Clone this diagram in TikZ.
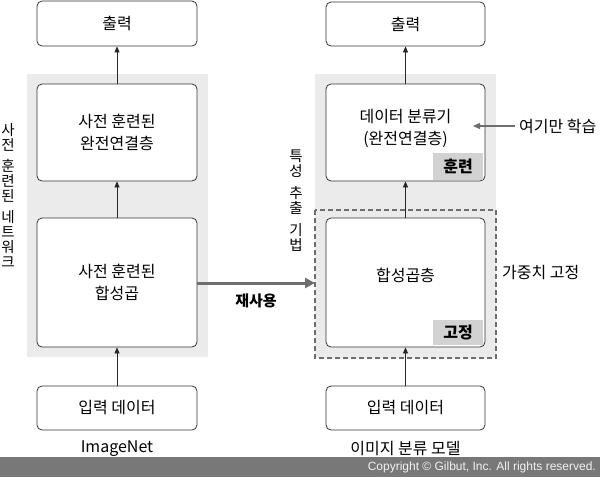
\documentclass[tikz,border=0pt]{standalone}
\usepackage{fontspec}
\setmainfont{Noto Sans CJK KR}
\newfontfamily\copyfont{Liberation Sans}
\usetikzlibrary{arrows.meta}
\definecolor{panelgray}{HTML}{EBEBEB}
\definecolor{taggray}{HTML}{D2D2D2}
\definecolor{arrgray}{HTML}{6E6E6E}
\definecolor{bargray}{HTML}{787878}
\tikzset{
  box/.style={draw=black!80, line width=0.8pt, rounded corners=5pt, fill=white},
  lbl/.style={font=\fontsize{16}{22}\selectfont, align=center, inner sep=0pt},
  tagbox/.style={fill=taggray, font=\fontsize{16}{18}\selectfont\bfseries, inner sep=0pt},
  flow/.style={-{Triangle[length=6pt,width=5pt]}, line width=0.7pt, black!85},
  vtext/.style={font=\fontsize{14.5}{15}\selectfont, align=center, inner sep=0pt},
}
\begin{document}
\begin{tikzpicture}[x=1pt,y=-1pt]
\useasboundingbox (0,0) rectangle (600,477);
% panels
\fill[panelgray] (27,74) rectangle (208,357);
\fill[panelgray] (315,74) rectangle (496,358);
\coordinate (dashW) at (315,283);
\draw[arrgray, line width=2pt, dash pattern=on 5pt off 3pt] (315,210) rectangle (496,358);
% left column
\node[box, minimum width=160pt, minimum height=45pt] (lout) at (117,23.5) {};
\node[lbl] (loutT) at (lout.center) {출력};
\node[box, minimum width=160pt, minimum height=97pt] (lfc) at (117,132.5) {};
\node[lbl] (lfcT) at (117,132) {사전 훈련된\\완전연결층};
\node[box, minimum width=160pt, minimum height=129pt] (lconv) at (117,282.5) {};
\node[lbl] (lconvT) at (117,282) {사전 훈련된\\합성곱};
\node[box, minimum width=160pt, minimum height=44pt] (lin) at (117,408) {};
\node[lbl] (linT) at (lin.center) {입력 데이터};
\node[lbl] (imgnet) at (117,449) {ImageNet};
% right column
\node[box, minimum width=159pt, minimum height=44pt] (rout) at (405.5,24) {};
\node[lbl] (routT) at (rout.center) {출력};
\node[box, minimum width=159pt, minimum height=97pt] (rfc) at (405.5,132.5) {};
\node[tagbox, minimum width=50pt, minimum height=27pt] (train) at (458,166.5) {훈련};
\node[lbl] (rfcT) at (405.5,128) {데이터 분류기\\(완전연결층)};
\node[box, minimum width=159pt, minimum height=129pt] (rconv) at (405.5,282.5) {};
\node[tagbox, minimum width=50pt, minimum height=25pt] (fixed) at (458,332.5) {고정};
\node[lbl] (rconvT) at (405.5,275) {합성곱층};
\node[box, minimum width=159pt, minimum height=44pt] (rin) at (405.5,408) {};
\node[lbl] (rinT) at (rin.center) {입력 데이터};
\node[lbl] (model) at (405.5,449) {이미지 분류 모델};
% side labels
\node[lbl, anchor=west] (only) at (519,126) {여기만 학습};
\node[lbl, anchor=west] (wfix) at (502,273) {가중치 고정};
\node[lbl, font=\fontsize{15}{16}\selectfont\bfseries] (reuse) at (256,301) {재사용};
\node[vtext] (vleft) at (8,195) {사\\전\\[6pt]훈\\련\\된\\[6pt]네\\트\\워\\크};
\node[vtext] (vright) at (296,201) {특\\성\\[7pt]추\\출\\[7pt]기\\법};
% arrows
\draw[flow] (lin) -- (lconv);
\draw[flow] (lconv) -- (lfc);
\draw[flow] (lfc) -- (lout);
\draw[flow] (rin) -- (rconv.south);
\draw[flow] (rconv) -- (rfc);
\draw[flow] (rfc) -- (rout);
\draw[arrgray, line width=3pt, -{Triangle[length=10pt,width=10pt]}] (lconv.east |- dashW) -- (dashW);
\draw[arrgray, line width=1.2pt, -{Triangle[length=7pt,width=6pt]}] (only.west) ++(-4,0) -- (473,126);
% copyright bar
\fill[bargray] (0,457) rectangle (600,477);
\node[anchor=east, text=white!95!black, font=\copyfont\fontsize{12}{14}\selectfont, inner sep=0pt] (copy) at (596,467) {Copyright © Gilbut, Inc. All rights reserved.};
\end{tikzpicture}
\end{document}
